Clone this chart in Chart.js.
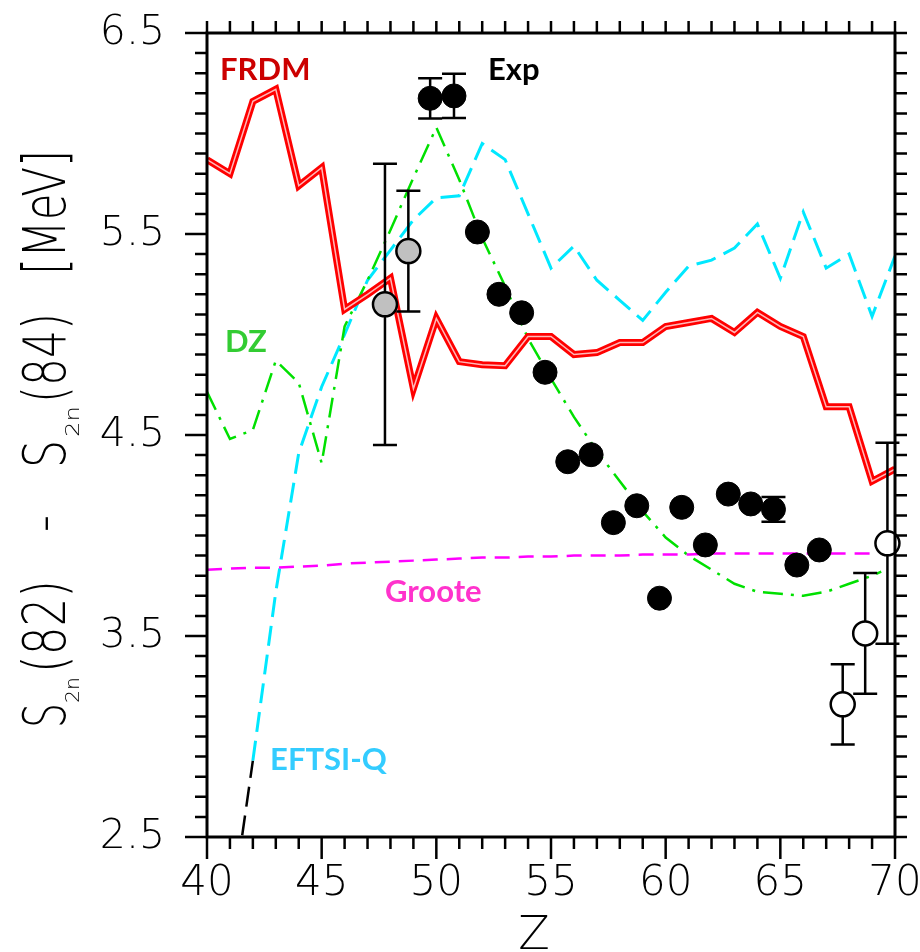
<!DOCTYPE html>
<html>
<head>
<meta charset="utf-8">
<script src="https://cdn.jsdelivr.net/npm/chart.js@4.4.0/dist/chart.umd.min.js"></script>
<style>
html, body { margin: 0; padding: 0; background: #fff; }
</style>
</head>
<body>
<canvas id="s2nChart" width="920" height="952"></canvas>
<script>
// ---------- data ----------
var xTickVals = [40, 45, 50, 55, 60, 65, 70];
var yTickVals = [2.5, 3.5, 4.5, 5.5, 6.5];

var frdmZ = [40, 41, 42, 43, 44, 45, 46, 47, 48, 49, 50, 51, 52, 53, 54, 55, 56, 57, 58, 59, 60, 61, 62, 63, 64, 65, 66, 67, 68, 69, 70];
var frdmVals = [5.87, 5.80, 6.16, 6.22, 5.74, 5.83, 5.125, 5.20, 5.28, 4.73, 5.08, 4.865, 4.85, 4.845, 4.99, 4.99, 4.90, 4.91, 4.96, 4.96, 5.04, 5.06, 5.08, 5.01, 5.11, 5.04, 4.99, 4.64, 4.64, 4.27, 4.33];

var dzZ = [40, 41, 42, 43, 44, 45, 46, 47, 48, 49, 50, 51, 52, 53, 54, 55, 56, 57, 58, 59, 60, 61, 62, 63, 64, 65, 66, 67, 68, 69, 69.4];
var dzVals = [4.715, 4.48, 4.525, 4.87, 4.76, 4.36, 5.04, 5.27, 5.52, 5.78, 6.03, 5.77, 5.48, 5.24, 4.98, 4.78, 4.59, 4.42, 4.27, 4.12, 3.99, 3.90, 3.83, 3.76, 3.72, 3.71, 3.70, 3.72, 3.76, 3.80, 3.82];

var eftZ = [42, 43, 44, 45, 46, 47, 48, 49, 50, 51, 52, 53, 54, 55, 56, 57, 58, 59, 60, 61, 62, 63, 64, 65, 66, 67, 68, 69, 70];
var eftVals = [2.88, 3.72, 4.41, 4.74, 5.00, 5.27, 5.42, 5.57, 5.68, 5.69, 5.95, 5.87, 5.60, 5.33, 5.44, 5.27, 5.17, 5.07, 5.21, 5.34, 5.37, 5.43, 5.55, 5.28, 5.61, 5.33, 5.40, 5.09, 5.39];
var eftTailZ = [41, 42];
var eftTailVals = [2.08, 2.88];

var grooteZ = [40, 41, 42, 43, 44, 45, 46, 47, 48, 49, 50, 51, 52, 53, 54, 55, 56, 57, 58, 59, 60, 61, 62, 63, 64, 65, 66, 67, 68, 69];
var grooteVals = [3.83, 3.835, 3.84, 3.84, 3.845, 3.85, 3.86, 3.865, 3.87, 3.875, 3.88, 3.885, 3.89, 3.89, 3.895, 3.895, 3.90, 3.90, 3.90, 3.905, 3.905, 3.905, 3.91, 3.91, 3.91, 3.91, 3.91, 3.91, 3.91, 3.91];

var expZ = [49.73, 50.77, 51.79, 52.73, 53.72, 54.74, 55.73, 56.75, 57.72, 58.74, 59.73, 60.70, 61.73, 62.73, 63.71, 64.70, 65.72, 66.70];
var expVals = [6.175, 6.187, 5.51, 5.20, 5.108, 4.812, 4.367, 4.402, 4.064, 4.148, 3.688, 4.14, 3.953, 4.206, 4.157, 4.130, 3.853, 3.928];
var expErr = [0.10, 0.11, 0, 0, 0, 0, 0, 0, 0, 0, 0, 0, 0, 0, 0, 0.062, 0, 0];

var greyZ = [47.76, 48.78];
var greyVals = [5.15, 5.415];
var greyErr = [0.70, 0.30];

var openZ = [67.72, 68.70, 69.67];
var openVals = [3.16, 3.513, 3.961];
var openErr = [0.20, 0.30, 0.50];

var AXIS_FONT = '"DejaVu Sans", "Liberation Sans", sans-serif';

function pts(xs, ys) {
	return xs.map(function(x, i) { return {x: x, y: ys[i]}; });
}

// ---------- plugins ----------
var errorBars = {
	id: 'errorBars',
	beforeDatasetDraw: function(chart, args) {
		if (args.index !== 2) return;   // just before the marker sets get drawn
		var ctx = chart.ctx, xs = chart.scales.x, ys = chart.scales.y;
		var cap = 12;
		function bars(zs, vals, errs) {
			for (var i = 0; i < zs.length; i++) {
				if (!errs[i]) continue;
				var px = xs.getPixelForValue(zs[i]);
				var top = ys.getPixelForValue(vals[i] + errs[i]);
				var bot = ys.getPixelForValue(vals[i] - errs[i]);
				ctx.beginPath();
				ctx.moveTo(px, top); ctx.lineTo(px, bot);
				ctx.moveTo(px - cap, top); ctx.lineTo(px + cap, top);
				ctx.moveTo(px - cap, bot); ctx.lineTo(px + cap, bot);
				ctx.stroke();
			}
		}
		ctx.save();
		ctx.strokeStyle = '#000';
		ctx.lineWidth = 2.5;
		bars(expZ, expVals, expErr);
		bars(greyZ, greyVals, greyErr);
		bars(openZ, openVals, openErr);
		ctx.restore();
	}
};

var frame = {
	id: 'frame',
	afterDraw: function(chart) {
		var ctx = chart.ctx, a = chart.chartArea;
		var xs = chart.scales.x, ys = chart.scales.y;
		ctx.save();
		ctx.strokeStyle = '#000';
		ctx.lineWidth = 2.5;
		ctx.beginPath();
		var i, p, len;
		for (i = 40; i <= 70; i++) {
			p = xs.getPixelForValue(i);
			len = (i % 5 === 0) ? 22 : 12;
			ctx.moveTo(p, a.bottom); ctx.lineTo(p, a.bottom + len);
			ctx.moveTo(p, a.top); ctx.lineTo(p, a.top - 12);
		}
		for (i = 25; i <= 65; i++) {
			p = ys.getPixelForValue(i / 10);
			len = (i % 10 === 5) ? 22 : 12;
			ctx.moveTo(a.left, p); ctx.lineTo(a.left - len, p);
			ctx.moveTo(a.right, p); ctx.lineTo(a.right + 12, p);
		}
		ctx.stroke();
		ctx.lineWidth = 3;
		ctx.strokeRect(a.left, a.top, a.right - a.left, a.bottom - a.top);

		// series names inside the plot
		ctx.font = 'bold 31px Lato, "Open Sans", sans-serif';
		ctx.textAlign = 'left';
		ctx.textBaseline = 'alphabetic';
		var names = [
			['FRDM', 40.57, 6.266, '#cc0000'],
			['Exp', 52.25, 6.266, '#000000'],
			['DZ', 40.78, 4.913, '#33cc33'],
			['Groote', 47.76, 3.669, '#ff33cc'],
			['EFTSI-Q', 42.75, 2.833, '#33ccff']
		];
		names.forEach(function(n) {
			ctx.fillStyle = n[3];
			ctx.fillText(n[0], xs.getPixelForValue(n[1]), ys.getPixelForValue(n[2]));
		});

		// axis titles
		ctx.fillStyle = '#000';
		ctx.font = '200 46px ' + AXIS_FONT;
		ctx.textAlign = 'center';
		ctx.fillText('Z', 534, 949);

		function vtext(txt, size, bottom, topEnd, baseX) {
			ctx.save();
			ctx.font = '200 ' + size + 'px ' + AXIS_FONT;
			ctx.translate(baseX, bottom);
			ctx.rotate(-Math.PI / 2);
			var w = ctx.measureText(txt).width;
			ctx.scale((bottom - topEnd) / w, 1);
			ctx.textAlign = 'left';
			ctx.fillText(txt, 0, 0);
			ctx.restore();
		}
		vtext('S', 58, 728, 703, 65);
		vtext('2n', 20, 703, 677, 79);
		vtext('(82)', 58, 673, 580, 65);
		vtext('\u2212', 58, 532, 515, 65);
		vtext('S', 58, 468, 440, 65);
		vtext('2n', 20, 437, 406, 79);
		vtext('(84)', 58, 403, 313, 65);
		vtext('[MeV]', 58, 275, 150, 65);
		ctx.restore();
	}
};

// ---------- chart ----------
Chart.defaults.font.family = AXIS_FONT;
Chart.defaults.color = '#000';

var ctx = document.getElementById('s2nChart').getContext('2d');
var s2nChart = new Chart(ctx, {
	type: 'scatter',
	data: {
		datasets: [{
			label: 'Exp',
			data: pts(expZ, expVals),
			pointRadius: 12,
			pointBackgroundColor: '#000',
			pointBorderColor: '#000',
			pointBorderWidth: 1
		}, {
			label: 'Exp (grey)',
			data: pts(greyZ, greyVals),
			pointRadius: 12,
			pointBackgroundColor: '#c0c0c0',
			pointBorderColor: '#000',
			pointBorderWidth: 2.5
		}, {
			label: 'Exp (open)',
			data: pts(openZ, openVals),
			pointRadius: 12,
			pointBackgroundColor: '#fff',
			pointBorderColor: '#000',
			pointBorderWidth: 2.5,
			clip: false
		}, {
			label: 'FRDM inner',
			data: pts(frdmZ, frdmVals),
			showLine: true,
			pointRadius: 0,
			borderColor: '#ffb8b8',
			borderWidth: 1.5
		}, {
			label: 'FRDM',
			data: pts(frdmZ, frdmVals),
			showLine: true,
			pointRadius: 0,
			borderColor: '#ff0000',
			borderWidth: 7
		}, {
			label: 'Groote',
			data: pts(grooteZ, grooteVals),
			showLine: true,
			pointRadius: 0,
			borderColor: '#ff00ff',
			borderWidth: 2.5,
			borderDash: [15, 9]
		}, {
			label: 'DZ',
			data: pts(dzZ, dzVals),
			showLine: true,
			pointRadius: 0,
			borderColor: '#00e000',
			borderWidth: 2.5,
			borderDash: [20, 8, 3, 8]
		}, {
			label: 'EFTSI-Q',
			data: pts(eftZ, eftVals),
			showLine: true,
			pointRadius: 0,
			borderColor: '#00e8ff',
			borderWidth: 3,
			borderDash: [20, 9]
		}, {
			label: 'EFTSI-Q tail',
			data: pts(eftTailZ, eftTailVals),
			showLine: true,
			pointRadius: 0,
			borderColor: '#000',
			borderWidth: 2.5,
			borderDash: [20, 9]
		}]
	},
	options: {
		responsive: false,
		animation: false,
		layout: { padding: { top: 33, right: 25, left: 0, bottom: 0 } },
		plugins: {
			legend: { display: false },
			tooltip: { enabled: false }
		},
		scales: {
			x: {
				type: 'linear',
				min: 40,
				max: 70,
				grid: { display: false, drawTicks: false },
				border: { display: false },
				ticks: {
					padding: 22,
					font: { size: 42, weight: 200 },
					autoSkip: false,
					maxRotation: 0,
					callback: function(v) { return String(v); }
				},
				afterBuildTicks: function(s) {
					s.ticks = xTickVals.map(function(v) { return {value: v}; });
				},
				afterFit: function(s) {
					s.height = 115;
					s.paddingLeft = 0;
					s.paddingRight = 0;
				}
			},
			y: {
				type: 'linear',
				min: 2.5,
				max: 6.5,
				grid: { display: false, drawTicks: false },
				border: { display: false },
				ticks: {
					padding: 42,
					font: { size: 41, weight: 200 },
					autoSkip: false,
					callback: function(v) { return Number(v).toFixed(1); }
				},
				afterBuildTicks: function(s) {
					s.ticks = yTickVals.map(function(v) { return {value: v}; });
				},
				afterFit: function(s) {
					s.width = 207;
					s.paddingTop = 0;
					s.paddingBottom = 0;
				}
			}
		}
	},
	plugins: [errorBars, frame]
});
</script>
</body>
</html>
